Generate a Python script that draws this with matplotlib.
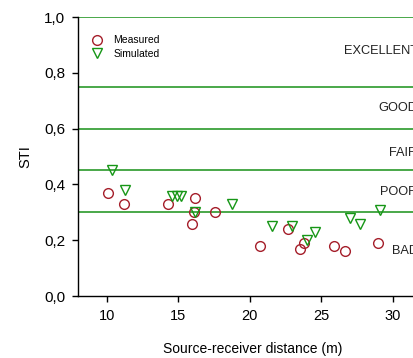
import matplotlib
matplotlib.use("Agg")
import matplotlib.pyplot as plt

plt.rcParams['font.family'] = ['Liberation Sans', 'DejaVu Sans']

measured_x = [10.1, 11.2, 14.3, 16.2, 16.1, 16.0, 17.6, 20.7, 22.7, 23.5, 23.8, 25.9, 26.7, 29.0]
measured_y = [0.37, 0.33, 0.33, 0.35, 0.30, 0.26, 0.30, 0.18, 0.24, 0.17, 0.19, 0.18, 0.16, 0.19]

simulated_x = [10.4, 11.3, 14.6, 14.9, 15.2, 16.2, 18.8, 21.6, 23.0, 24.0, 24.6, 27.0, 27.7, 29.1]
simulated_y = [0.45, 0.38, 0.36, 0.36, 0.36, 0.30, 0.33, 0.25, 0.25, 0.20, 0.23, 0.28, 0.26, 0.31]

boundaries = [0.30, 0.45, 0.60, 0.75, 1.00]
classes = ["BAD", "POOR", "FAIR", "GOOD", "EXCELLENT"]
class_y = [0.16, 0.372, 0.512, 0.673, 0.879]

x_ticks = [10, 15, 20, 25, 30]
y_ticks = [0.0, 0.2, 0.4, 0.6, 0.8, 1.0]
y_ticklabels = ["0,0", "0,2", "0,4", "0,6", "0,8", "1,0"]

fig = plt.figure(figsize=(4.14, 3.58), dpi=100)
ax = fig.add_axes([0.1884, 0.173, 0.846, 0.7795])

line_color = "#2a9a2a"
red = "#a51e2a"
green = "#169616"

for b in boundaries:
    ax.axhline(b, color=line_color, lw=1.2, zorder=1)

ax.plot(measured_x, measured_y, linestyle="none", marker="o", markersize=7,
        markerfacecolor="none", markeredgecolor=red, markeredgewidth=1.0,
        label="Measured", zorder=3)
ax.plot(simulated_x, simulated_y, linestyle="none", marker="v", markersize=7.5,
        markerfacecolor="none", markeredgecolor=green, markeredgewidth=1.0,
        label="Simulated", zorder=3)

for name, yy in zip(classes, class_y):
    ax.text(31.75, yy, name, ha="right", va="center", fontsize=9.2, color="#222222")

ax.set_xlim(8, 32.5)
ax.set_ylim(0, 1.0)
ax.set_xticks(x_ticks)
ax.set_yticks(y_ticks)
ax.set_yticklabels(y_ticklabels)
ax.tick_params(direction="out", length=4, width=1, labelsize=10.5, pad=5, colors="black")
ax.tick_params(axis="y", labelsize=11)
for s in ["top", "right"]:
    ax.spines[s].set_visible(False)
for s in ["left", "bottom"]:
    ax.spines[s].set_linewidth(1.0)

ax.set_xlabel("Source-receiver distance (m)", fontsize=10, labelpad=14)
ax.set_ylabel("STI", fontsize=10.5, labelpad=9)

ax.legend(loc="upper left", bbox_to_anchor=(0.012, 0.96), frameon=False, fontsize=7.5,
          handletextpad=0.8, labelspacing=0.35, borderaxespad=0.3, handlelength=1.5)

fig.savefig("out.png", dpi=100)
